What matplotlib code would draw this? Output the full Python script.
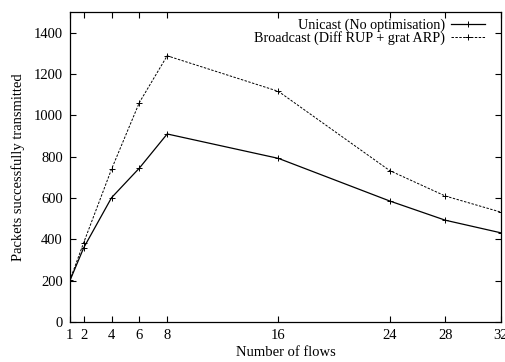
import matplotlib
matplotlib.use("Agg")
import matplotlib.pyplot as plt

# data
flows = [1, 2, 4, 6, 8, 16, 24, 28, 32]
unicast = [200, 360, 602, 745, 910, 792, 586, 493, 432]
broadcast = [202, 385, 740, 1062, 1288, 1116, 733, 610, 532]
x_ticks = [1, 2, 4, 6, 8, 16, 24, 28, 32]
y_ticks = [0, 200, 400, 600, 800, 1000, 1200, 1400]

plt.rcParams['font.family'] = ['Liberation Serif', 'DejaVu Serif']
plt.rcParams['font.size'] = 10.5

fig = plt.figure(figsize=(5.06, 3.62), dpi=100)
ax = fig.add_axes([0.138, 0.11, 0.852, 0.857])

ax.plot(flows, unicast, color='black', lw=0.9, marker='+', ms=4, mew=0.7,
        label='Unicast (No optimisation)')
ax.plot(flows, broadcast, color='black', lw=0.7, ls=(0, (2.5, 1.5)), marker='+',
        ms=4, mew=0.7, label='Broadcast (Diff RUP + grat ARP)')

ax.set_xlim(1, 32)
ax.set_ylim(0, 1500)
ax.set_xticks(x_ticks)
ax.set_yticks(y_ticks)
ax.tick_params(direction='in', top=True, right=True, length=4, width=0.8, pad=5)
for s in ax.spines.values():
    s.set_linewidth(0.9)

ax.set_xlabel('Number of flows', labelpad=3)
ax.set_ylabel('Packets successfully transmitted', labelpad=6)

ax.legend(loc='upper right', frameon=False, markerfirst=False, handlelength=2.4,
          fontsize=10.2, labelspacing=-0.08, borderaxespad=0.3, handletextpad=0.4,
          bbox_to_anchor=(0.985, 1.01))

fig.savefig('out.png', dpi=100)
